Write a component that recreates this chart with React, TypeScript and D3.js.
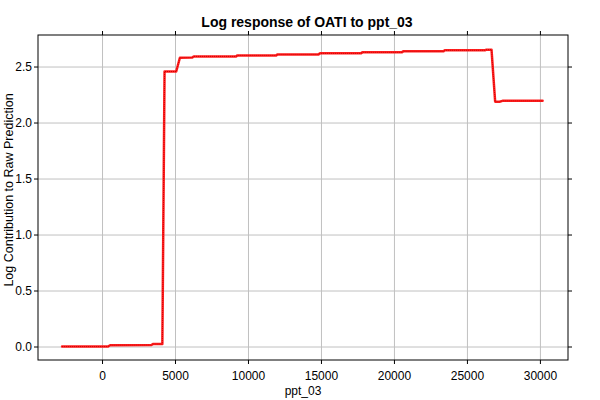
import React from "react";
import * as d3 from "d3";

const xValues = [-2770, 380, 520, 3350, 3450, 4100, 4250, 5050, 5300, 6150, 6250, 9150, 9250, 11900, 12000, 14800, 14900, 17700, 17800, 20500, 20600, 23350, 23450, 26200, 26300, 26650, 26900, 27200, 27400, 30150];
const yValues = [0.004, 0.004, 0.016, 0.018, 0.026, 0.026, 2.46, 2.46, 2.583, 2.585, 2.595, 2.595, 2.604, 2.604, 2.613, 2.613, 2.622, 2.622, 2.631, 2.631, 2.64, 2.64, 2.649, 2.649, 2.655, 2.655, 2.19, 2.19, 2.198, 2.198];
const xTicks = [0, 5000, 10000, 15000, 20000, 25000, 30000];
const yTicks = [0, 0.5, 1.0, 1.5, 2.0, 2.5];
const title = "Log response of OATI to ppt_03";
const xLabel = "ppt_03";
const yLabel = "Log Contribution to Raw Prediction";

export default function App() {
  const W = 600, H = 400;
  const L = 38, R = 568, T = 35, B = 360;
  const x = d3.scaleLinear().domain([-4420, 31890]).range([L, R]);
  const y = d3.scaleLinear().domain([-0.116, 2.786]).range([B, T]);
  const pts = xValues.map((v, i) => [v, yValues[i]] as [number, number]);
  const line = d3.line<[number, number]>().x(d => x(d[0])).y(d => y(d[1]));
  const path = line(pts) || "";
  const font = "'Liberation Sans', Arial, sans-serif";
  return (
    <svg width={W} height={H} style={{ position: "absolute", left: 0, top: 0, background: "#fff" }} fontFamily={font}>
      <rect x={0} y={0} width={W} height={H} fill="#fff" />
      {xTicks.map(t => (
        <line key={"gx" + t} x1={x(t)} x2={x(t)} y1={T} y2={B} stroke="#c0c0c0" strokeWidth={1} />
      ))}
      {yTicks.map(t => (
        <line key={"gy" + t} x1={L} x2={R} y1={y(t)} y2={y(t)} stroke="#c0c0c0" strokeWidth={1} />
      ))}
      {xTicks.map(t => (
        <g key={"tx" + t}>
          <line x1={x(t)} x2={x(t)} y1={B} y2={B + 4} stroke="#000" />
          <line x1={x(t)} x2={x(t)} y1={T} y2={T - 4} stroke="#000" />
          <text x={x(t)} y={380} textAnchor="middle" fontSize={12} fill="#000">{String(t)}</text>
        </g>
      ))}
      {yTicks.map(t => (
        <g key={"ty" + t}>
          <line x1={L} x2={L - 4} y1={y(t)} y2={y(t)} stroke="#000" />
          <line x1={R} x2={R + 4} y1={y(t)} y2={y(t)} stroke="#000" />
          <text x={32} y={y(t) + 4} textAnchor="end" fontSize={12} fill="#000">{t.toFixed(1)}</text>
        </g>
      ))}
      <rect x={L} y={T} width={R - L} height={B - T} fill="none" stroke="#000" strokeWidth={1} />
      <path d={path} fill="none" stroke="#ff2020" strokeWidth={2.5} strokeLinejoin="round" strokeLinecap="round" />
      <path d={path} fill="none" stroke="#d00000" strokeWidth={1} strokeDasharray="1,1" />
      <text x={(L + R) / 2 + 4} y={27} textAnchor="middle" fontSize={14} fontWeight="bold" fill="#000">{title}</text>
      <text x={(L + R) / 2} y={395} textAnchor="middle" fontSize={12} fill="#000">{xLabel}</text>
      <text transform={`translate(13, 190) rotate(-90)`} textAnchor="middle" fontSize={12.5} fill="#000">{yLabel}</text>
    </svg>
  );
}
